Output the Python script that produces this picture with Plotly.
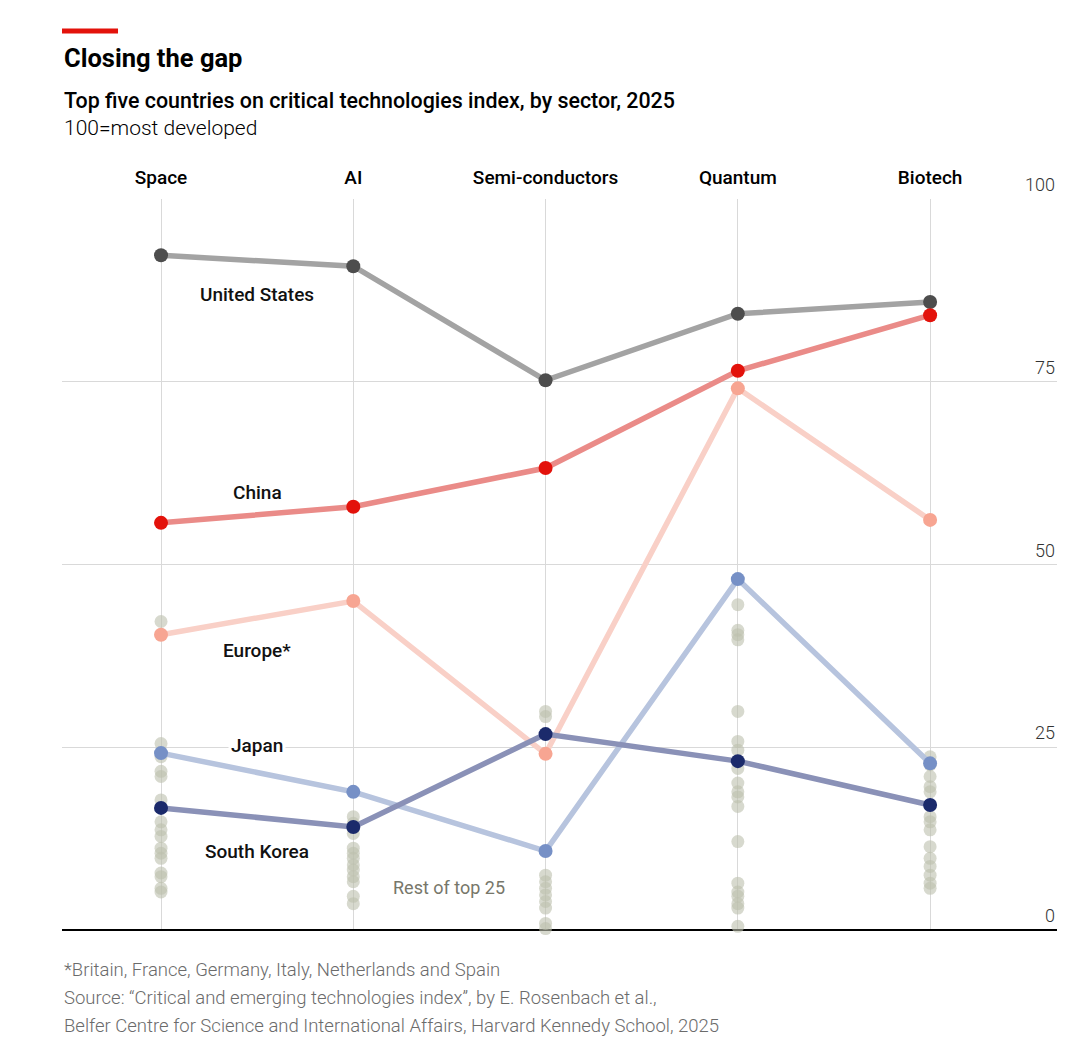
import plotly.graph_objects as go

# sectors across the top
sectors = ["Space", "AI", "Semi-conductors", "Quantum", "Biotech"]

# index scores for the top five
united_states = [92.3, 90.8, 75.2, 84.3, 85.9]
china = [55.7, 57.9, 63.2, 76.5, 84.1]
europe = [40.4, 45.0, 24.1, 74.1, 56.1]
japan = [24.2, 18.9, 10.8, 48.0, 22.8]
south_korea = [16.7, 14.1, 26.8, 23.1, 17.1]

# rest of the top 25, one list per sector
rest_space = [42.2, 25.5, 23.7, 21.7, 21.0, 17.8, 14.8, 13.7, 12.8, 11.2, 10.5, 9.8, 7.8, 7.3, 5.7, 5.2]
rest_ai = [15.5, 14.6, 13.2, 11.2, 10.5, 9.8, 8.9, 8.2, 7.3, 6.6, 4.6, 3.6]
rest_semi = [29.9, 29.2, 7.5, 6.6, 5.7, 4.8, 3.9, 3.0, 0.9, 0.2]
rest_quantum = [44.5, 41.0, 40.4, 39.7, 29.9, 25.8, 24.6, 22.1, 20.1, 18.9, 18.2, 16.9,
                12.1, 6.4, 5.2, 4.6, 3.6, 3.0, 0.5]
rest_biotech = [23.7, 22.6, 21.0, 19.6, 18.9, 15.5, 14.8, 13.7, 11.4, 9.8, 8.7, 7.5, 6.4, 5.7]

y_ticks = [0, 25, 50, 75, 100]

FONT = "Roboto, 'Open Sans', sans-serif"

fig = go.Figure()

# grey dots for the rest
rest = [rest_space, rest_ai, rest_semi, rest_quantum, rest_biotech]
rx, ry = [], []
for i, vals in enumerate(rest):
    rx += [i] * len(vals)
    ry += vals
fig.add_trace(go.Scatter(
    x=rx, y=ry, mode="markers", cliponaxis=False,
    marker=dict(size=13, color="#bcbfad", opacity=0.6, line=dict(width=0)),
    hoverinfo="skip", showlegend=False))

series = [
    ("United States", united_states, "#a3a3a3", "#4d4d4d"),
    ("Europe*", europe, "#f9d0c7", "#f7a592"),
    ("Japan", japan, "#b7c4de", "#7690c6"),
    ("South Korea", south_korea, "#8a91b7", "#1b2a6b"),
    ("China", china, "#ea8b88", "#e3120b"),
]
xs = list(range(len(sectors)))

for name, vals, lc, mc in series:
    fig.add_trace(go.Scatter(x=xs, y=vals, mode="lines",
                             line=dict(color=lc, width=5.5),
                             hoverinfo="skip", showlegend=False))
for name, vals, lc, mc in series:
    fig.add_trace(go.Scatter(x=xs, y=vals, mode="markers", name=name,
                             marker=dict(color=mc, size=14, line=dict(width=0)),
                             cliponaxis=False, showlegend=False))

# labels between Space and AI
labels = [("United States", 87.0), ("China", 59.8), ("Europe*", 38.3),
          ("Japan", 25.2), ("South Korea", 10.8)]
for txt, yv in labels:
    fig.add_annotation(x=0.5, y=yv, text=txt, showarrow=False,
                       font=dict(family=FONT, size=19, color="#111", weight=500),
                       bgcolor="white" if txt == "Japan" else None,
                       borderpad=2)
fig.add_annotation(x=1.5, y=5.75, text="Rest of top 25", showarrow=False,
                   font=dict(family=FONT, size=18, color="#77776a"))

# y tick labels sit above their gridlines at the right edge
for t in y_ticks:
    fig.add_annotation(xref="paper", x=1, xanchor="right", y=t, yanchor="bottom",
                       yshift=2, showarrow=False, text=str(t),
                       font=dict(family=FONT, size=18, color="#333", weight=300))

# header
fig.add_shape(type="rect", xref="paper", yref="paper",
              x0=0, x1=0.0563, y0=1.2264, y1=1.2332,
              fillcolor="#e3120b", line=dict(width=0))
fig.add_annotation(xref="paper", yref="paper", x=0, y=1.1929, xanchor="left",
                   yanchor="middle", showarrow=False, text="<b>Closing the gap</b>",
                   font=dict(family=FONT, size=25.5, color="#000"))
fig.add_annotation(xref="paper", yref="paper", x=0, y=1.1341, xanchor="left",
                   yanchor="middle", showarrow=False,
                   text="Top five countries on critical technologies index, by sector, 2025",
                   font=dict(family=FONT, size=21.4, color="#000", weight=500))
fig.add_annotation(xref="paper", yref="paper", x=0, y=1.0971, xanchor="left",
                   yanchor="middle", showarrow=False, text="100=most developed",
                   font=dict(family=FONT, size=21, color="#000", weight=300))

# footnotes
notes = ["*Britain, France, Germany, Italy, Netherlands and Spain",
         "Source: \u201cCritical and emerging technologies index\u201d, by E. Rosenbach et al.,",
         "Belfer Centre for Science and International Affairs, Harvard Kennedy School, 2025"]
for k, line in enumerate(notes):
    fig.add_annotation(xref="paper", yref="paper", x=0,
                       y=(930 - (970 + 28 * k)) / 731, xanchor="left",
                       yanchor="middle", showarrow=False, text=line,
                       font=dict(family=FONT, size=18.5, color="#6b6b6b", weight=300))

# page body adds an 8px offset, so the figure is 8px smaller with margins shifted
fig.update_layout(
    width=1072, height=1052,
    margin=dict(l=54, r=23, t=191, b=130),
    paper_bgcolor="white", plot_bgcolor="white",
    font=dict(family=FONT),
    xaxis=dict(range=[-0.515, 4.66], side="top", tickvals=xs, ticktext=sectors,
               ticks="", showgrid=True, gridcolor="#d9d9d9", gridwidth=1,
               zeroline=False, showline=False, ticklabelstandoff=10,
               tickfont=dict(family=FONT, size=19, color="#000", weight=500)),
    yaxis=dict(range=[0, 100], side="right", tickvals=y_ticks,
               showticklabels=False, ticks="",
               showgrid=True, gridcolor="#d9d9d9", gridwidth=1,
               zeroline=True, zerolinecolor="#000", zerolinewidth=1.5),
)

fig.write_html("out.html")
